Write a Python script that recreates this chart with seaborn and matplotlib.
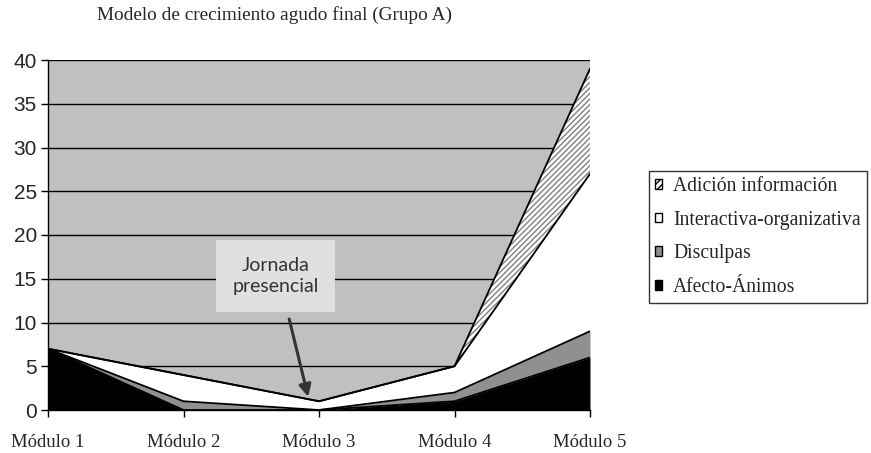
import numpy as np
import pandas as pd
import matplotlib
matplotlib.use("Agg")
import matplotlib.pyplot as plt
import seaborn as sns
from matplotlib.patches import Patch

modules = ["Módulo 1", "Módulo 2", "Módulo 3", "Módulo 4", "Módulo 5"]
afecto = [7, 0, 0, 1, 6]
disculpas = [0, 1, 0, 1, 3]
interactiva = [0, 3, 1, 3, 18]
adicion = [0, 0, 0, 0, 12]
series_names = ["Afecto-Ánimos", "Disculpas", "Interactiva-organizativa", "Adición información"]
y_ticks = [0, 5, 10, 15, 20, 25, 30, 35, 40]
title = "Modelo de crecimiento agudo final (Grupo A)"
note = "Jornada\npresencial"

sns.set_style("white")
plt.rcParams["hatch.color"] = "#808080"
plt.rcParams["hatch.linewidth"] = 1.0

fig = plt.figure(figsize=(8.71, 4.53), dpi=100)
ax = fig.add_axes([48 / 871, 1 - 410 / 453, (590 - 48) / 871, (410 - 60) / 453])
ax.set_facecolor("#C0C0C0")

x = np.arange(len(modules))
vals = [afecto, disculpas, interactiva, adicion]
colors = ["#000000", "#909090", "#FFFFFF", "#FFFFFF"]
hatches = [None, None, None, "//////"]

for yv in y_ticks[1:]:
    ax.axhline(yv, color="black", lw=1.0, zorder=1)

polys = ax.stackplot(x, *vals, colors=colors, linewidth=0, zorder=2)
for p, h in zip(polys, hatches):
    if h:
        p.set_hatch(h)
        p.set_edgecolor("#808080")

cum = np.cumsum(np.array(vals), axis=0)
df = pd.DataFrame({"x": np.tile(x, len(vals)), "y": cum.ravel(),
                   "s": np.repeat(series_names, len(x))})
sns.lineplot(data=df, x="x", y="y", units="s", estimator=None, color="black",
             lw=1.3, ax=ax, zorder=3, legend=False)

ax.set_xlim(0, len(modules) - 1)
ax.set_ylim(0, 40)
ax.set_yticks(y_ticks)
ax.set_yticklabels([str(v) for v in y_ticks], fontfamily="Liberation Sans", fontsize=15)
ax.set_xticks(x)
ax.set_xticklabels(modules, fontfamily="Liberation Serif", fontsize=13.5)
ax.set_xlabel("")
ax.set_ylabel("")
ax.tick_params(axis="both", direction="out", length=5, width=1, color="black", left=True, bottom=True)
ax.tick_params(axis="x", pad=12)
ax.tick_params(axis="y", pad=3)
for s in ["top", "right"]:
    ax.spines[s].set_visible(False)
for s in ["left", "bottom"]:
    ax.spines[s].set_color("black")
    ax.spines[s].set_linewidth(1)
    ax.spines[s].set_zorder(5)

fig.text(97 / 871, 1 - 15 / 453, title, fontfamily="Liberation Serif", fontsize=13.9,
         ha="left", va="center")

ax.text(1.68, 15.3, note, ha="center", va="center", fontfamily="Lato", fontsize=14,
        color="#333333", linespacing=1.3,
        bbox=dict(boxstyle="square,pad=0.85", fc="#E0E0E0", ec="none"), zorder=6)
ax.annotate("", xy=(1.92, 1.5), xytext=(1.78, 10.4),
            arrowprops=dict(arrowstyle="-|>", color="#333333", lw=2.2, mutation_scale=18,
                            shrinkA=0, shrinkB=0),
            zorder=6)

handles = [Patch(facecolor=c, edgecolor="black", hatch=h, label=n)
           for c, h, n in zip(colors, hatches, series_names)][::-1]
handles[0].set_hatch("/////")
leg = fig.legend(handles=handles, loc="upper left", bbox_to_anchor=(649 / 871, 1 - 171 / 453),
                 prop={"family": "Liberation Serif", "size": 14.1}, frameon=True, fancybox=False,
                 edgecolor="black", handlelength=0.38, handleheight=0.38, handletextpad=0.55,
                 labelspacing=0.75, borderpad=0.3, borderaxespad=0)
leg.get_frame().set_linewidth(1)

fig.savefig("out.png", dpi=100)
